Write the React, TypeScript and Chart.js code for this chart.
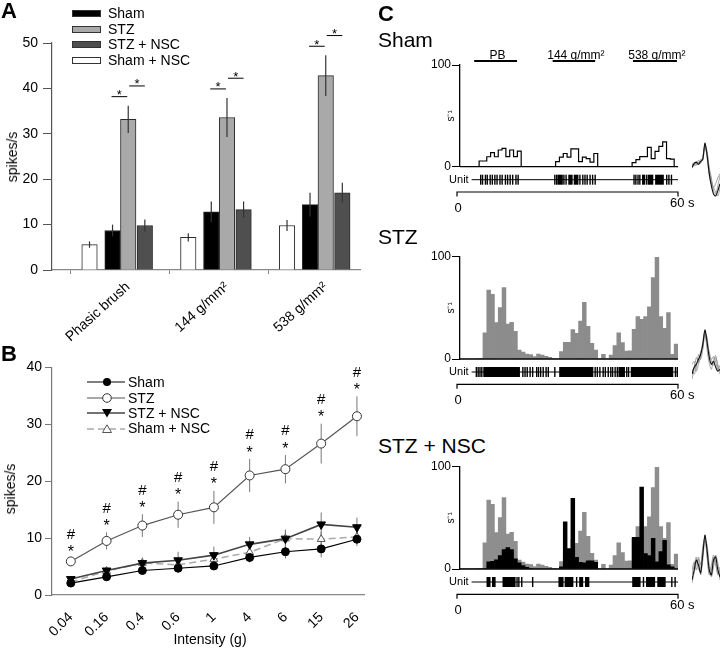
import React, { useEffect, useRef } from 'react';
import { Chart, registerables } from 'chart.js';

Chart.register(...registerables);
const FONT = '"Liberation Sans", Arial, Helvetica, sans-serif';
Chart.defaults.font.family = FONT;
Chart.defaults.color = '#000';

// ---------------- Panel A data ----------------
const seriesNames = ['Sham', 'STZ', 'STZ + NSC', 'Sham + NSC'];
const categoriesA = ['Phasic brush', '144 g/mm²', '538 g/mm²'];
const shamA = [8.7, 12.8, 14.4];
const shamAErr = [1.3, 2.3, 2.6];
const stzA = [33.2, 33.6, 42.8];
const stzAErr = [3.0, 4.3, 4.5];
const stzNscA = [9.8, 13.3, 17.0];
const stzNscAErr = [1.3, 1.8, 2.2];
const shamNscA = [5.6, 7.2, 9.8];
const shamNscAErr = [0.7, 0.9, 1.2];

// ---------------- Panel B data ----------------
const intensityLabels = ['0.04', '0.16', '0.4', '0.6', '1', '4', '6', '15', '26'];
const shamB = [2.1, 3.2, 4.3, 4.7, 5.1, 6.6, 7.6, 8.1, 9.8];
const shamBErr = [0.3, 0.4, 0.5, 0.5, 0.6, 0.9, 1.2, 1.5, 1.2];
const stzB = [5.9, 9.5, 12.2, 14.1, 15.4, 21.0, 22.1, 26.6, 31.4];
const stzBErr = [0.5, 1.5, 2.0, 2.3, 2.9, 2.9, 2.5, 3.5, 3.5];
const stzNscB = [2.8, 4.3, 5.6, 6.1, 7.0, 8.9, 9.9, 12.4, 11.9];
const stzNscBErr = [0.5, 0.6, 1.0, 1.5, 1.5, 1.3, 1.6, 2.1, 1.7];
const shamNscB = [2.3, 4.2, 5.6, 5.3, 6.3, 7.5, 9.9, 9.8, 10.2];
const shamNscBErr = [0.5, 0.5, 0.8, 0.8, 0.9, 1.0, 1.5, 1.3, 1.0];

// ---------------- Panel C data (57 bins over 60 s, spikes/s) ----------------
const shamHist = [
  0, 0, 0, 0, 0, 5.6, 5.6, 9.8, 13.8, 9.8, 16.4, 18, 10, 16.4, 10, 15.4,
  0, 0, 0, 0, 0, 0, 0, 0, 0, 5, 9.5, 13, 9.5, 17.5, 17.5, 5, 9.5, 8, 4.5, 13,
  0, 0, 0, 0, 0, 0, 0, 0, 0, 4, 7, 10, 10, 19, 8, 15, 20, 24.5, 8, 7.5, 0,
];
const stzHist = [
  0, 0, 0, 0, 0.5, 0.7, 25.7, 67.4, 63.2, 35.5, 50.2, 69.7, 34.2, 35.8, 27, 8.8,
  6.8, 4.9, 4.2, 2.3, 4.9, 3.9, 2.6, 1.6, 0.5, 0, 7.2, 16.3, 16.3, 28.7, 25, 37.1,
  55.4, 31.9, 15.3, 8.8, 0, 4.6, 0, 3.9, 13, 25.7, 16, 7.8, 8.1, 29, 41.4, 38.8,
  41.4, 51.1, 79.5, 99.3, 41.4, 30, 45.3, 4.6, 14.7,
];
const stzNscHist = [
  0, 0, 0, 0, 0, 0, 0.5, 7, 7.5, 9, 13, 19, 21, 19, 10, 6,
  3.3, 1.6, 0.5, 0, 0, 0, 0, 0, 0, 0, 2, 46, 20, 69, 11.5, 6.6,
  6, 8, 8, 6.6, 0, 0, 0, 0, 0, 0, 0, 0, 0, 31, 31, 80,
  15, 13, 30, 7, 17, 28, 4, 2, 0,
];
const stimulusLabels = ['PB', '144 g/mm²', '538 g/mm²'];
const stimulusIntervals = [[3.9, 15.7], [25.5, 37.2], [47.6, 59.7]];

const shamSpikes = [5.7, 6.2, 7.0, 7.5, 8.3, 8.9, 9.6, 10.2, 11.0, 11.6, 12.5, 13.1, 13.8, 14.5, 15.4, 16.0,
  26.1, 26.6, 28.6, 29.2, 33.0, 33.8, 34.4, 35.0, 35.8, 36.5, 37.2,
  47.9, 48.4, 49.0, 49.5, 51.4, 56.9, 57.5, 58.2];
const shamBursts = [[26.8, 28.3], [29.8, 31.0], [31.3, 32.6], [50.1, 51.0], [51.7, 53.2], [53.7, 56.1]];
const stzSpikes = [4.5, 5.0, 5.5, 6.0, 17.3, 17.9, 18.5, 19.3, 20.0, 21.1, 21.6, 22.2, 22.9, 23.7, 24.3, 26.1,
  37.2, 37.8, 38.5, 39.4, 40.0, 40.8, 41.5, 42.0, 42.7, 43.3, 45.9, 46.4, 59.3, 59.8];
const stzBursts = [[6.4, 16.5], [27.3, 36.7], [43.6, 45.4], [47.0, 58.7]];
const stzNscSpikes = [15.7, 16.2, 17.0, 20.0, 32.1, 50.5, 58.3, 59.2];
const stzNscBursts = [[7.3, 8.4], [8.8, 9.8], [11.7, 15.3], [27.1, 28.5], [28.8, 31.2], [32.8, 33.9],
  [34.4, 35.6], [47.4, 49.7], [51.2, 53.7], [54.3, 56.6]];

// spike waveform overlays (arbitrary units)
const shamWaveforms = [
  [-2, 2, 3, 1, 4, 6, 22, 10, -8, -20, -28, -30, -25, -18],
  [0, 3, 1, 5, 3, 8, 20, 14, -4, -15, -22, -26, -30, -22],
  [2, -1, 4, 2, 6, 5, 18, 12, -2, -12, -25, -28, -20, -10],
  [-3, 1, 0, 3, 2, 7, 21, 8, -10, -18, -22, -18, -12, -8],
];
const stzWaveforms = [
  [-15, -8, -5, 0, 5, 15, 30, 18, 2, -5, -2, -8, -12, -10],
  [-20, -10, 2, -3, 8, 12, 28, 22, 5, 0, 3, -3, -10, -6],
  [-10, -15, -8, 5, 0, 10, 26, 15, 8, -2, -6, 2, -5, -12],
  [-5, -2, -12, -5, 3, 18, 29, 10, -4, -10, 0, 4, -8, -15],
];
const stzNscWaveforms = [
  [-15, -5, 5, 0, -8, 10, 30, 15, -5, -10, 5, 8, -5, -12],
  [-10, 0, 8, -5, -3, 15, 28, 10, -8, 0, 10, 3, -10, -5],
  [-18, -8, 2, 6, -10, 5, 25, 20, 0, -12, -2, 10, 2, -15],
  [-5, 3, -5, 8, 0, 18, 27, 8, -10, -5, 8, 0, -8, -2],
];

// ---------------- chart builders ----------------
function buildA() {
  const vals = [shamA, stzA, stzNscA, shamNscA];
  const errs = [shamAErr, stzAErr, stzNscAErr, shamNscAErr];
  const fills = ['#000000', '#a9a9a9', '#4f4f4f', '#ffffff'];
  const offsets = [-0.076, 0.083, 0.251, -0.309];
  const datasets = vals.map((arr, k) => ({
    label: seriesNames[k],
    data: arr.map((v, i) => ({ x: i + offsets[k], y: v })),
    backgroundColor: fills[k],
    borderColor: '#2a2a2a',
    borderWidth: 1,
    barThickness: 15.5,
    grouped: false,
  }));
  const overlay = {
    id: 'aOverlay',
    afterDatasetsDraw(chart: any) {
      const { ctx } = chart;
      const ys = chart.scales.y;
      const xs = chart.scales.x;
      ctx.save();
      ctx.strokeStyle = '#333';
      ctx.lineWidth = 1.2;
      vals.forEach((arr, k) => {
        const meta = chart.getDatasetMeta(k);
        meta.data.forEach((el: any, i: number) => {
          ctx.beginPath();
          ctx.moveTo(el.x, ys.getPixelForValue(arr[i] + errs[k][i]));
          ctx.lineTo(el.x, ys.getPixelForValue(arr[i] - errs[k][i]));
          ctx.stroke();
        });
      });
      const mSham = chart.getDatasetMeta(0).data;
      const mStz = chart.getDatasetMeta(1).data;
      const mNsc = chart.getDatasetMeta(2).data;
      ctx.strokeStyle = '#000';
      ctx.fillStyle = '#000';
      ctx.lineWidth = 1;
      ctx.font = `13px ${FONT}`;
      ctx.textAlign = 'center';
      ctx.textBaseline = 'alphabetic';
      stzA.forEach((v, i) => {
        const top = ys.getPixelForValue(v + stzAErr[i]);
        const l1 = top - 9;
        const l2 = l1 - 10.7;
        const segs = [[mSham[i].x - 1, mStz[i].x - 1, l1], [mStz[i].x + 1, mNsc[i].x, l2]];
        segs.forEach(([x1, x2, yy]) => {
          ctx.beginPath();
          ctx.moveTo(x1, yy);
          ctx.lineTo(x2, yy);
          ctx.stroke();
          ctx.fillText('*', (x1 + x2) / 2, yy + 2.4);
        });
      });
      // rotated category labels
      ctx.font = `14px ${FONT}`;
      ctx.textAlign = 'right';
      ctx.textBaseline = 'middle';
      const yAxis0 = ys.getPixelForValue(0);
      categoriesA.forEach((label, i) => {
        ctx.save();
        ctx.translate(xs.getPixelForValue(i) + 8, yAxis0 + 15);
        ctx.rotate(-42 * Math.PI / 180);
        ctx.fillText(label, 0, 0);
        ctx.restore();
      });
      ctx.restore();
    },
  };
  return {
    type: 'bar',
    data: { datasets },
    options: {
      responsive: false,
      animation: false,
      layout: { padding: { top: 43, right: 10, bottom: 0, left: 0 } },
      plugins: { legend: { display: false }, tooltip: { enabled: false } },
      scales: {
        x: {
          type: 'linear', min: -0.689, max: 2.43, offset: false,
          grid: { display: true, drawOnChartArea: false, drawTicks: true, tickLength: 4, color: '#888' },
          border: { color: '#888', width: 1.2 },
          afterBuildTicks: (ax: any) => { ax.ticks = categoriesA.map((_, i) => ({ value: i })); },
          ticks: { display: false },
          afterFit: (s: any) => { s.height = 75; },
        },
        y: {
          min: 0, max: 50,
          ticks: { stepSize: 10, font: { size: 14 }, padding: 5, color: '#000' },
          grid: { drawOnChartArea: false, tickLength: 9, color: '#555' },
          border: { color: '#555', width: 1.2 },
          afterFit: (s: any) => { s.width = 52; },
        },
      },
    },
    plugins: [overlay],
  };
}

function buildB() {
  const vals = [shamB, stzB, stzNscB, shamNscB];
  const errs = [shamBErr, stzBErr, stzNscBErr, shamNscBErr];
  const styles: any[] = [
    { borderColor: '#000', borderWidth: 1.2, pointStyle: 'circle', pointRadius: 4, pointBackgroundColor: '#000', pointBorderColor: '#000' },
    { borderColor: '#555', borderWidth: 1.2, pointStyle: 'circle', pointRadius: 4.5, pointBackgroundColor: '#fff', pointBorderColor: '#333' },
    { borderColor: '#444', borderWidth: 1.6, pointStyle: 'triangle', pointRadius: 5, pointRotation: 180, pointBackgroundColor: '#000', pointBorderColor: '#000' },
    { borderColor: '#aaa', borderWidth: 1.5, borderDash: [7, 4], pointStyle: 'triangle', pointRadius: 4.5, pointBackgroundColor: '#fff', pointBorderColor: '#555' },
  ];
  const datasets = vals.map((arr, k) => ({
    label: seriesNames[k],
    data: arr.map((v, i) => ({ x: i, y: v })),
    pointBorderWidth: 1,
    fill: false,
    ...styles[k],
  }));
  const overlay = {
    id: 'bOverlay',
    beforeDatasetsDraw(chart: any) {
      const { ctx } = chart;
      const ys = chart.scales.y;
      ctx.save();
      ctx.strokeStyle = '#777';
      ctx.lineWidth = 1;
      vals.forEach((arr, k) => {
        chart.getDatasetMeta(k).data.forEach((el: any, i: number) => {
          ctx.beginPath();
          ctx.moveTo(el.x, ys.getPixelForValue(arr[i] + errs[k][i]));
          ctx.lineTo(el.x, ys.getPixelForValue(arr[i] - errs[k][i]));
          ctx.stroke();
        });
      });
      ctx.restore();
    },
    afterDatasetsDraw(chart: any) {
      const { ctx } = chart;
      const ys = chart.scales.y;
      ctx.save();
      ctx.fillStyle = '#000';
      ctx.textAlign = 'center';
      ctx.textBaseline = 'alphabetic';
      chart.getDatasetMeta(1).data.forEach((el: any, i: number) => {
        const top = ys.getPixelForValue(stzB[i] + stzBErr[i]);
        ctx.font = `16px ${FONT}`;
        ctx.fillText('*', el.x, top - 1.4);
        ctx.font = `15px ${FONT}`;
        ctx.fillText('#', el.x, top - 19.6);
      });
      ctx.restore();
    },
  };
  return {
    type: 'line',
    data: { datasets },
    options: {
      responsive: false,
      animation: false,
      layout: { padding: { top: 32.3, right: 7, bottom: 0, left: 0 } },
      plugins: { legend: { display: false }, tooltip: { enabled: false } },
      scales: {
        x: {
          type: 'linear', min: -0.526, max: 8.22, offset: false,
          grid: { display: false },
          border: { color: '#888', width: 1.2 },
          afterBuildTicks: (ax: any) => { ax.ticks = intensityLabels.map((_, i) => ({ value: i })); },
          ticks: {
            autoSkip: false, minRotation: 45, maxRotation: 45, padding: 6,
            font: { size: 14 }, color: '#000',
            callback: (v: any) => intensityLabels[v],
          },
          afterFit: (s: any) => { s.height = 54; },
        },
        y: {
          min: 0, max: 40,
          ticks: { stepSize: 10, font: { size: 14 }, padding: 3, color: '#000' },
          grid: { drawOnChartArea: false, tickLength: 7, color: '#777' },
          border: { color: '#777', width: 1.2 },
          afterFit: (s: any) => { s.width = 52; },
        },
      },
    },
    plugins: [overlay],
  };
}

function cOverlay(spikes: number[], bursts: number[][], withStim: boolean) {
  return {
    id: 'cOverlay',
    afterDraw(chart: any) {
      const { ctx, chartArea: ca } = chart;
      const xs = chart.scales.x;
      const ys = chart.scales.y;
      const X = (t: number) => xs.getPixelForValue(t);
      ctx.save();
      ctx.strokeStyle = '#000';
      ctx.fillStyle = '#000';
      const y0 = ys.getPixelForValue(0);
      ctx.lineWidth = 1.3;
      ctx.beginPath();
      ctx.moveTo(X(0), y0);
      ctx.lineTo(X(60), y0);
      ctx.stroke();
      // y title
      ctx.save();
      ctx.translate(ca.left - 8.5, (ca.top + ca.bottom) / 2);
      ctx.rotate(-Math.PI / 2);
      ctx.font = `10px ${FONT}`;
      ctx.textAlign = 'center';
      ctx.textBaseline = 'middle';
      ctx.fillText('s⁻¹', 0, 0);
      ctx.restore();
      // unit raster
      const ry = ca.bottom + 13;
      ctx.lineWidth = 1;
      ctx.beginPath();
      ctx.moveTo(X(3.2), ry);
      ctx.lineTo(X(60), ry);
      ctx.stroke();
      spikes.forEach((t) => ctx.fillRect(X(t) - 0.7, ry - 5, 1.4, 10));
      bursts.forEach(([a, b]) => ctx.fillRect(X(a), ry - 5, X(b) - X(a), 10));
      ctx.font = `11px ${FONT}`;
      ctx.textAlign = 'right';
      ctx.textBaseline = 'middle';
      ctx.fillText('Unit', X(3.2) - 3, ry);
      // time bar
      const ty = ca.bottom + 25.3;
      ctx.lineWidth = 1.2;
      ctx.beginPath();
      ctx.moveTo(X(0) - 3, ty + 4.5);
      ctx.lineTo(X(0) - 3, ty);
      ctx.lineTo(X(60), ty);
      ctx.lineTo(X(60), ty + 4.5);
      ctx.stroke();
      ctx.font = `13px ${FONT}`;
      ctx.textBaseline = 'alphabetic';
      ctx.textAlign = 'center';
      ctx.fillText('0', X(0) - 2, ty + 19.5);
      ctx.textAlign = 'left';
      ctx.fillText('60 s', X(60) - 8, ty + 15);
      if (withStim) {
        const sy = ca.top - 4;
        ctx.lineWidth = 2;
        ctx.font = `12px ${FONT}`;
        ctx.textAlign = 'center';
        stimulusIntervals.forEach(([a, b], k) => {
          ctx.beginPath();
          ctx.moveTo(X(a), sy);
          ctx.lineTo(X(b), sy);
          ctx.stroke();
          ctx.fillText(stimulusLabels[k], (X(a) + X(b)) / 2 + 2, sy - 2.5);
        });
      }
      ctx.restore();
    },
  };
}

function buildC(kind: string) {
  const bw = 60 / stzHist.length;
  const barData = (arr: number[]) => arr.map((v, i) => ({ x: (i + 0.5) * bw, y: v }));
  const barStyle = { grouped: false, categoryPercentage: 1, barPercentage: 1, borderWidth: 0 };
  let datasets: any[];
  let spikes = shamSpikes;
  let bursts = shamBursts;
  if (kind === 'sham') {
    datasets = [{
      type: 'line',
      data: [...shamHist.map((v, i) => ({ x: i * bw, y: v })), { x: 60, y: 0 }],
      stepped: 'before', borderColor: '#000', borderWidth: 1.2, pointRadius: 0, fill: false,
    }];
  } else if (kind === 'stz') {
    spikes = stzSpikes; bursts = stzBursts;
    datasets = [{ type: 'bar', data: barData(stzHist), backgroundColor: '#8c8c8c', ...barStyle }];
  } else {
    spikes = stzNscSpikes; bursts = stzNscBursts;
    datasets = [
      { type: 'bar', data: barData(stzNscHist), backgroundColor: '#000', ...barStyle },
      { type: 'bar', data: barData(stzHist), backgroundColor: '#8e8e8e', ...barStyle },
    ];
  }
  const padTop = kind === 'sham' ? 25 : 26.7;
  const padBottom = kind === 'sham' ? 53.3 : 51;
  return {
    type: 'bar',
    data: { datasets },
    options: {
      responsive: false,
      animation: false,
      layout: { padding: { top: padTop, right: 22, bottom: padBottom, left: 0 } },
      plugins: { legend: { display: false }, tooltip: { enabled: false } },
      scales: {
        x: { type: 'linear', min: 0, max: 60, display: false, offset: false },
        y: {
          min: 0, max: 100,
          afterBuildTicks: (ax: any) => { ax.ticks = [{ value: 0 }, { value: 100 }]; },
          ticks: { font: { size: 12 }, padding: 1, color: '#000' },
          grid: { drawOnChartArea: false, tickLength: 8, color: '#000', lineWidth: 1 },
          border: { color: '#000', width: 1.3 },
          afterFit: (s: any) => { s.width = 60; },
        },
      },
    },
    plugins: [cOverlay(spikes, bursts, kind === 'sham')],
  };
}

function buildWave(traces: number[][], ymin: number, ymax: number) {
  return {
    type: 'line',
    data: {
      datasets: traces.map((tr, k) => ({
        data: tr.map((v, i) => ({ x: i, y: v })),
        borderColor: k === 0 ? '#111' : '#8a8a8a',
        borderWidth: k === 0 ? 1.1 : 0.8,
        pointRadius: 0,
        tension: 0.25,
      })),
    },
    options: {
      responsive: false,
      animation: false,
      layout: { padding: 0 },
      plugins: { legend: { display: false }, tooltip: { enabled: false } },
      scales: {
        x: { type: 'linear', display: false, min: 0, max: 13 },
        y: { display: false, min: ymin, max: ymax },
      },
    },
  };
}

// ---------------- components ----------------
function ChartBox({ x, y, w, h, build }: any) {
  const ref = useRef<HTMLCanvasElement>(null);
  useEffect(() => {
    const chart = new Chart(ref.current as HTMLCanvasElement, build());
    return () => chart.destroy();
  }, []);
  return (
    <div style={{ position: 'absolute', left: x, top: y, width: w, height: h }}>
      <canvas ref={ref} width={w} height={h} style={{ display: 'block', width: w, height: h }} />
    </div>
  );
}

function Txt({ x, y, size, bold, align, children }: any) {
  const style: any = {
    position: 'absolute', left: x, top: y - 0.846 * size, fontSize: size, lineHeight: `${size}px`,
    fontFamily: FONT, fontWeight: bold ? 'bold' : 'normal', whiteSpace: 'nowrap', color: '#000',
  };
  if (align === 'center') style.transform = 'translateX(-50%)';
  return <div style={style}>{children}</div>;
}

function VTxt({ cx, cy, size, children }: any) {
  return (
    <div style={{
      position: 'absolute', left: cx, top: cy, fontSize: size, lineHeight: `${size}px`, fontFamily: FONT,
      whiteSpace: 'nowrap', color: '#000', transform: 'translate(-50%, -50%) rotate(-90deg)',
    }}>{children}</div>
  );
}

function LegendA() {
  const fills = ['#000', '#a9a9a9', '#4f4f4f', '#fff'];
  const baselines = [18.3, 33.8, 49.3, 64.8];
  return (
    <>
      {seriesNames.map((name, k) => (
        <React.Fragment key={name}>
          <div style={{
            position: 'absolute', left: 72, top: baselines[k] - 8.3, width: 29, height: 7,
            background: fills[k], border: '1px solid #333', boxSizing: 'border-box',
          }} />
          <Txt x={108} y={baselines[k]} size={14}>{name}</Txt>
        </React.Fragment>
      ))}
    </>
  );
}

function LegendB() {
  const baselines = [387, 402.5, 418, 433.3];
  const lines = [
    { stroke: '#000', w: 1.2, dash: undefined },
    { stroke: '#555', w: 1.2, dash: undefined },
    { stroke: '#444', w: 1.6, dash: undefined },
    { stroke: '#aaa', w: 1.5, dash: '7 4' },
  ];
  const marker = (k: number) => {
    if (k === 0) return <circle cx={22} cy={6} r={4} fill="#000" />;
    if (k === 1) return <circle cx={22} cy={6} r={4.3} fill="#fff" stroke="#333" strokeWidth={1} />;
    if (k === 2) return <polygon points="17,2 27,2 22,10.5" fill="#000" />;
    return <polygon points="22,1.8 26.5,9.5 17.5,9.5" fill="#fff" stroke="#555" strokeWidth={1} />;
  };
  return (
    <>
      {seriesNames.map((name, k) => (
        <React.Fragment key={name}>
          <svg width={44} height={12} style={{ position: 'absolute', left: 85, top: baselines[k] - 4.7 - 6 }}>
            <line x1={2} y1={6} x2={40} y2={6} stroke={lines[k].stroke} strokeWidth={lines[k].w} strokeDasharray={lines[k].dash} />
            {marker(k)}
          </svg>
          <Txt x={128} y={baselines[k]} size={14}>{name}</Txt>
        </React.Fragment>
      ))}
    </>
  );
}

export default function App() {
  return (
    <div style={{ position: 'absolute', left: 0, top: 0, width: 720, height: 649, background: '#fff', overflow: 'hidden' }}>
      {/* Panel B (below A in stacking so A's long labels stay visible) */}
      <ChartBox x={0} y={335} w={375} h={314} build={buildB} />
      <Txt x={1} y={362} size={22} bold>B</Txt>
      <LegendB />
      <VTxt cx={10} cy={489} size={14}>spikes/s</VTxt>
      <Txt x={210} y={644} size={14} align="center">Intensity (g)</Txt>

      {/* Panel A */}
      <ChartBox x={0} y={0} w={370} h={345} build={buildA} />
      <Txt x={1} y={18.6} size={22} bold>A</Txt>
      <LegendA />
      <VTxt cx={12} cy={157} size={14}>spikes/s</VTxt>

      {/* Panel C */}
      <Txt x={378} y={22} size={22} bold>C</Txt>
      <Txt x={378} y={47} size={21}>Sham</Txt>
      <Txt x={378} y={243.3} size={21}>STZ</Txt>
      <Txt x={378} y={453} size={21}>STZ + NSC</Txt>
      <ChartBox x={400} y={40} w={300} h={180} build={() => buildC('sham')} />
      <ChartBox x={400} y={230} w={300} h={180} build={() => buildC('stz')} />
      <ChartBox x={400} y={440} w={300} h={180} build={() => buildC('nsc')} />
      <ChartBox x={692} y={140} w={28} h={58} build={() => buildWave(shamWaveforms, -32, 25)} />
      <ChartBox x={692} y={325} w={28} h={62} build={() => buildWave(stzWaveforms, -28, 35)} />
      <ChartBox x={692} y={530} w={28} h={62} build={() => buildWave(stzNscWaveforms, -27, 35)} />
    </div>
  );
}
